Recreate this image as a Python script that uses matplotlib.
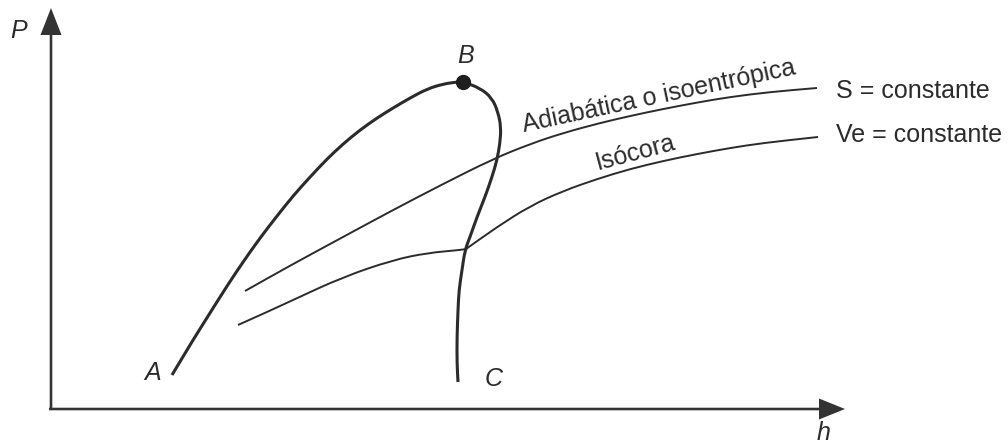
import matplotlib.pyplot as plt
import numpy as np
from matplotlib.path import Path
from matplotlib.patches import PathPatch

plt.rcParams['font.family'] = ['Liberation Sans', 'DejaVu Sans']

# saturation curve A -> B (liquid side) and B -> C (vapour side)
h_AB = [121, 142, 159, 176, 192, 209, 226, 242, 259, 276, 292, 309, 326, 342, 359, 376, 392, 406, 412]
P_AB = [34, 69, 96, 123, 147, 171, 193, 213, 232, 250, 265, 279, 291, 301, 311, 320, 325, 327, 327]

h_BC = [412, 429, 441, 447, 450, 449, 446, 441, 434, 426, 419, 414, 411, 408, 407, 406, 406, 407]
P_BC = [327, 321, 311, 297, 282, 266, 249, 232, 212, 192, 172, 159, 139, 119, 99, 72, 46, 27]

# adiabatic (isentropic) line, S = constante
h_S = [194, 242, 292, 342, 392, 442, 479, 512, 549, 579, 612, 649, 679, 719, 766]
P_S = [118, 145, 172, 199, 225, 250, 265, 276, 286, 293, 300, 307, 312, 317, 321]

# isochoric line, Ve = constante (kinks where it crosses B-C)
h_V = [187, 216, 242, 292, 342, 376, 409, 415, 446, 479, 512, 546, 579, 612, 646, 679, 712, 767]
P_V = [84, 97, 109, 132, 149, 156, 159, 160, 182, 203, 218, 230, 240, 248, 255, 261, 266, 272]
kink = 7

# critical point B
h_B, P_B = 412, 327

ink = '#2b2b2b'
fs = 18


def smooth_path(xs, ys):
    # quadratic bezier through the midpoints, with the read points as controls
    pts = np.column_stack([xs, ys]).astype(float)
    verts = [pts[0]]
    codes = [Path.MOVETO]
    mids = (pts[:-1] + pts[1:]) / 2
    verts.append(mids[0])
    codes.append(Path.LINETO)
    for i in range(1, len(pts) - 1):
        verts += [pts[i], mids[i]]
        codes += [Path.CURVE3, Path.CURVE3]
    verts.append(pts[-1])
    codes.append(Path.LINETO)
    return Path(verts, codes)


fig = plt.figure(figsize=(10.08, 4.46), dpi=100)
ax = fig.add_axes([0, 0, 1, 1])
ax.set_xlim(-51, 957)
ax.set_ylim(-37, 409)
ax.axis('off')

curves = [
    (h_AB, P_AB, 2.2),
    (h_BC, P_BC, 2.2),
    (h_S, P_S, 1.4),
    (h_V[:kink + 1], P_V[:kink + 1], 1.4),
    (h_V[kink:], P_V[kink:], 1.4),
]
for xs, ys, lw in curves:
    ax.add_patch(PathPatch(smooth_path(xs, ys), facecolor='none', edgecolor=ink,
                           lw=lw, capstyle='butt', joinstyle='round'))

ax.plot([h_B], [P_B], 'o', color='#1e1e1e', markersize=10, zorder=5)

# axes arrows
ax.arrow(0, -1, 0, 402, width=2.6, head_width=21, head_length=27,
         length_includes_head=True, color='#333333', ec='none')
ax.arrow(-2, 0, 796, 0, width=2.6, head_width=21, head_length=26,
         length_includes_head=True, color='#333333', ec='none')

ax.text(-32, 378, 'P', fontsize=fs, style='italic', color=ink, ha='center', va='center')
ax.text(773, -24, 'h', fontsize=fs, style='italic', color=ink, ha='center', va='center')
ax.text(102, 36, 'A', fontsize=fs, style='italic', color=ink, ha='center', va='center')
ax.text(415, 353, 'B', fontsize=fs, style='italic', color=ink, ha='center', va='center')
ax.text(443, 30, 'C', fontsize=fs, style='italic', color=ink, ha='center', va='center')

ax.text(785, 318, 'S = constante', fontsize=fs, color=ink, ha='left', va='center')
ax.text(785, 274, 'Ve = constante', fontsize=fs, color=ink, ha='left', va='center')

ax.text(473, 277, 'Adiabática o isoentrópica', fontsize=fs, color=ink, rotation=12,
        rotation_mode='anchor', ha='left', va='baseline')
ax.text(547, 239, 'Isócora', fontsize=fs, color=ink, rotation=15,
        rotation_mode='anchor', ha='left', va='baseline')

fig.savefig('out.png', dpi=100, facecolor='white')
